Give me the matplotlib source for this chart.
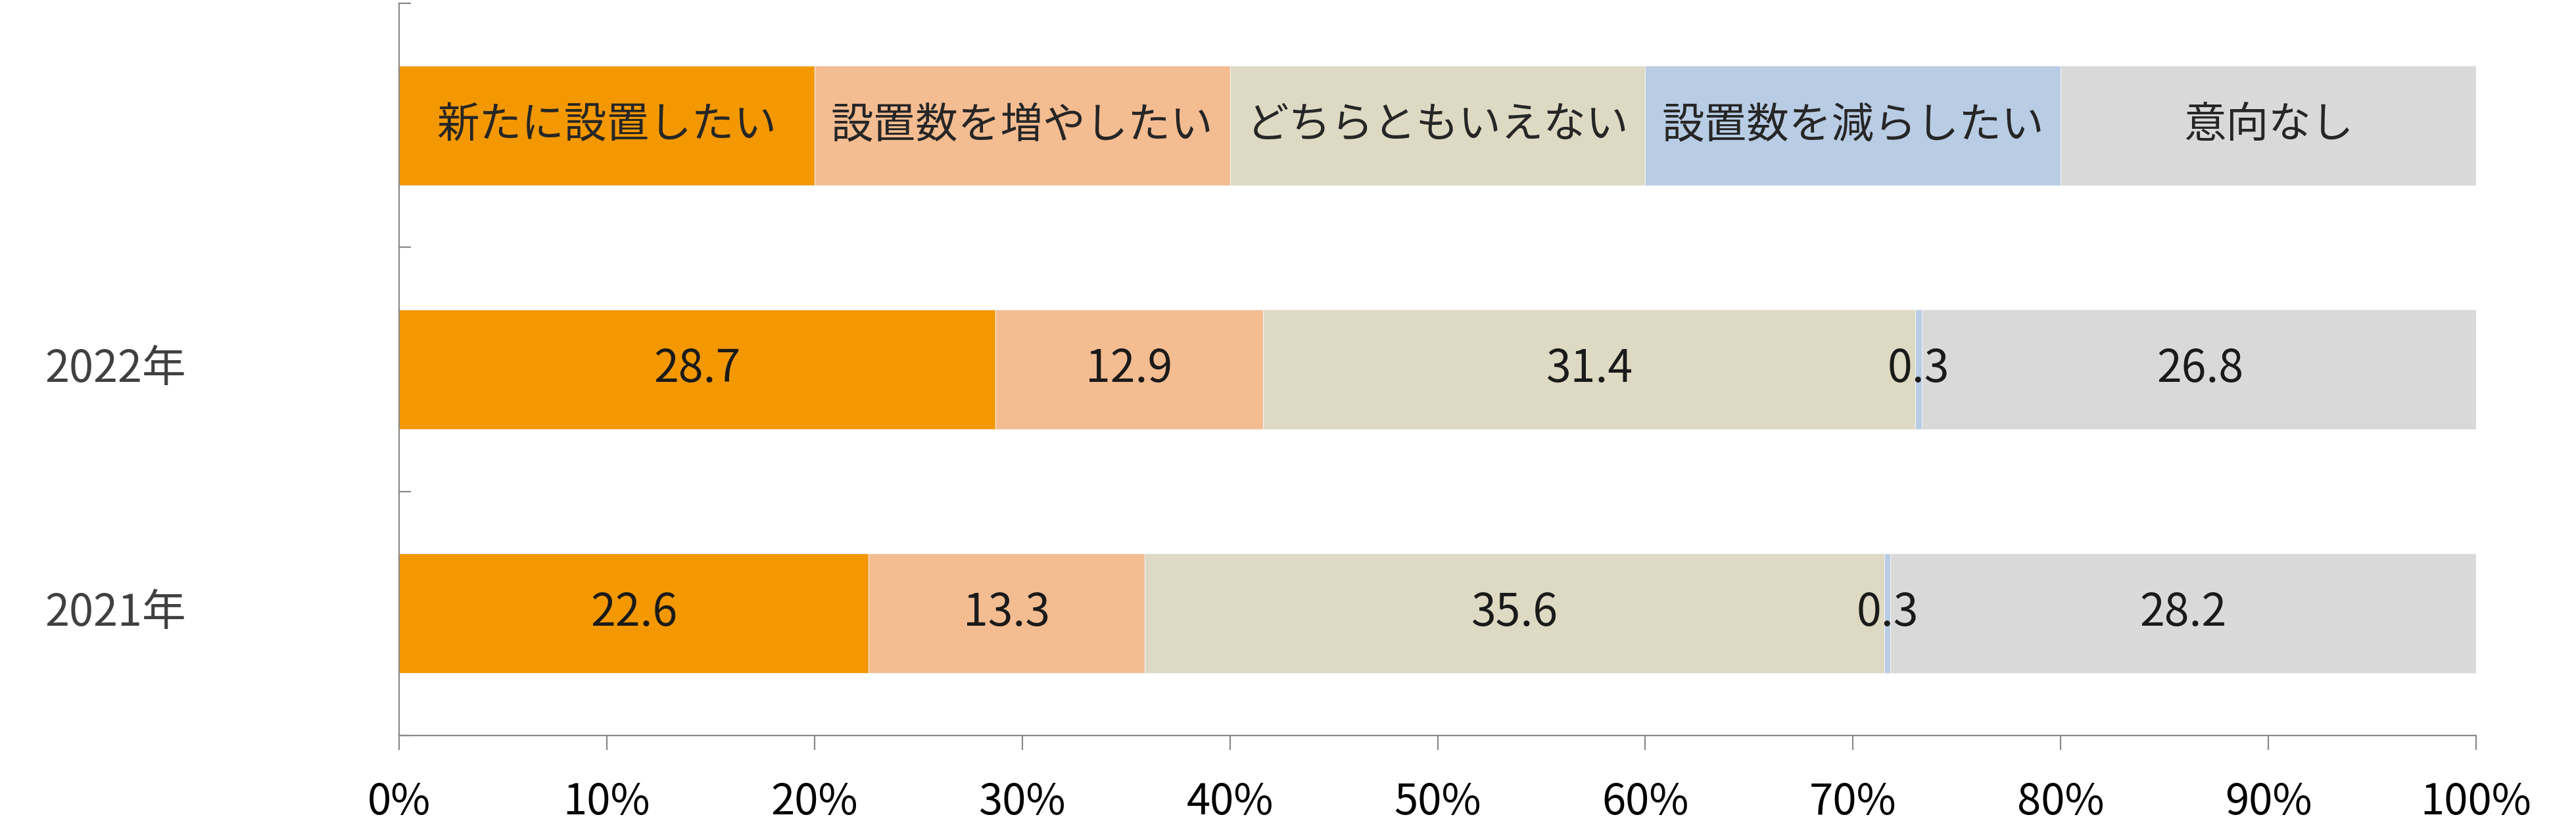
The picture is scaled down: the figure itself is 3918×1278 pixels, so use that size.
import matplotlib
matplotlib.use("Agg")
import matplotlib.pyplot as plt
from matplotlib.ticker import FixedLocator, PercentFormatter
import matplotlib.transforms as mtransforms

plt.rcParams['font.family'] = ['Noto Sans CJK JP', 'DejaVu Sans']

# ---- data ----
series_names = ["新たに設置したい", "設置数を増やしたい", "どちらともいえない", "設置数を減らしたい", "意向なし"]
colors = ["#F39800", "#F4BC91", "#DDD9C3", "#B8CCE4", "#D9D9D9"]
years = ["2022年", "2021年"]
values_2022 = [28.7, 12.9, 31.4, 0.3, 26.8]
values_2021 = [22.6, 13.3, 35.6, 0.3, 28.2]
legend_row = [20, 20, 20, 20, 20]
xticks = [0, 10, 20, 30, 40, 50, 60, 70, 80, 90, 100]

rows = [legend_row, values_2022, values_2021]
ypos = [2, 1, 0]

fig = plt.figure(figsize=(39.18, 12.78), dpi=100)
ax = fig.add_axes([607/3918, 1 - 1119/1278, (3766-607)/3918, (1119-5)/1278])

bar_h = 0.49
for r, (vals, y) in enumerate(zip(rows, ypos)):
    left = 0
    for i, v in enumerate(vals):
        ax.barh(y, v, left=left, height=bar_h, color=colors[i],
                edgecolor="#F2F2F2", linewidth=0.8)
        cx = left + v / 2
        if r == 0:
            ax.text(cx, y, series_names[i], ha="center", va="center",
                    fontsize=46.5, color="#262626")
        else:
            ax.text(cx, y, f"{v:.1f}", ha="center", va="center",
                    fontsize=49, color="#1A1A1A")
        left += v

ax.set_xlim(0, 100)
ax.set_ylim(-0.5, 2.5)

# category labels on the left
trans = mtransforms.blended_transform_factory(fig.transFigure, ax.transData)
for lab, y in zip(years, [1, 0]):
    ax.text(176/3918, y, lab, transform=trans, ha="center", va="center",
            fontsize=48, color="#404040")

# spines
for s in ["top", "right"]:
    ax.spines[s].set_visible(False)
for s in ["left", "bottom"]:
    ax.spines[s].set_color("#898989")
    ax.spines[s].set_linewidth(1.6)

ax.set_xticks(xticks)
ax.xaxis.set_major_formatter(PercentFormatter(decimals=0))
ax.tick_params(axis="x", direction="out", length=16, width=1.6, color="#898989",
               labelsize=47, labelcolor="#000000", pad=33)

ax.set_yticks([])
ax.yaxis.set_minor_locator(FixedLocator([-0.5, 0.5, 1.5, 2.5]))
ax.tick_params(axis="y", which="minor", direction="in", length=13, width=1.6,
               color="#898989")

fig.savefig("out.png", dpi=100)
